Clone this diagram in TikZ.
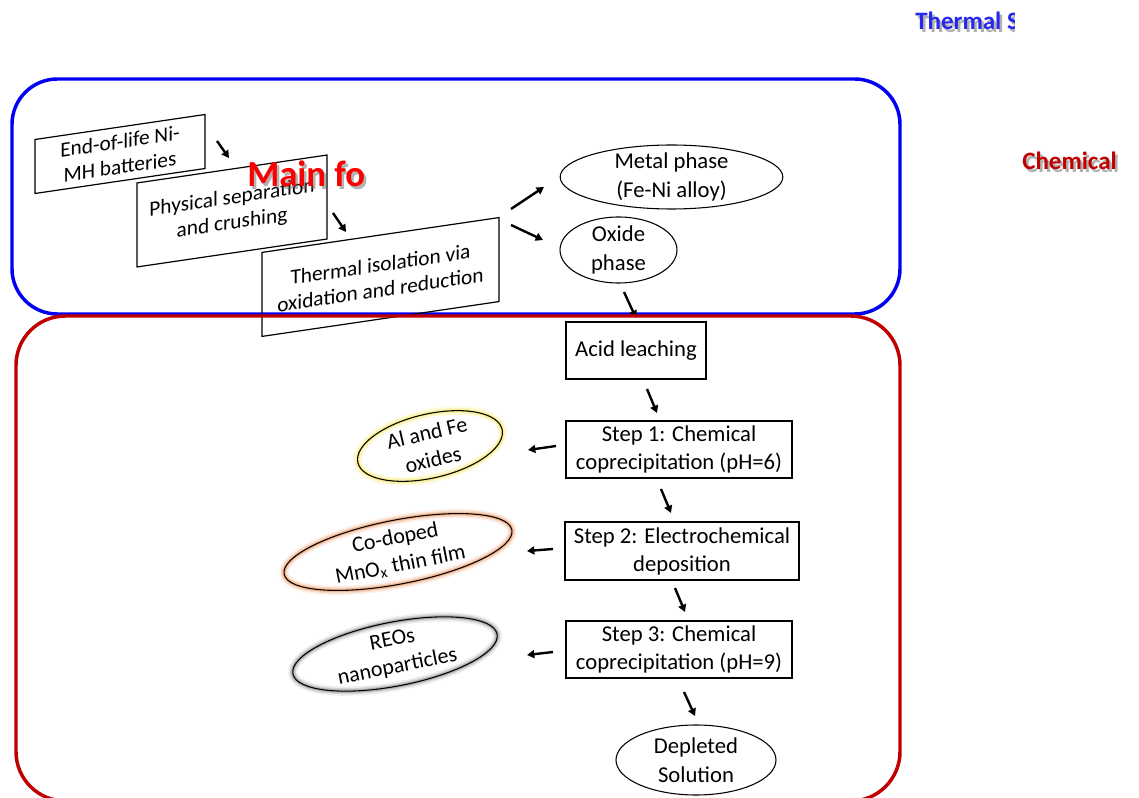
\documentclass[tikz,border=0pt]{standalone}
\usepackage{fontspec}
\setmainfont{Carlito}
\usetikzlibrary{shapes.geometric,arrows.meta}
\definecolor{tblue}{RGB}{40,40,235}
\definecolor{frameblue}{RGB}{0,0,245}
\definecolor{framered}{RGB}{192,0,0}
\definecolor{chemred}{RGB}{192,0,0}
\definecolor{mainred}{RGB}{250,0,0}
\definecolor{glowyellow}{RGB}{250,235,110}
\definecolor{gloworange}{RGB}{240,160,110}
\definecolor{glowgray}{RGB}{150,150,150}
\begin{document}
\begin{tikzpicture}[x=0.75pt,y=-0.75pt,
  box/.style={draw, line width=0.9pt, inner sep=0pt, align=center, font=\fontsize{17}{21}\selectfont},
  slbox/.style={draw, line width=0.9pt, yslant=0.147, transform shape, inner sep=0pt, align=center, font=\fontsize{16}{19}\selectfont},
  oval/.style={ellipse, draw, line width=0.8pt, inner sep=0pt},
  otext/.style={align=center, inner sep=0pt, font=\fontsize{17}{21.5}\selectfont},
  gtext/.style={align=center, inner sep=0pt, font=\fontsize{16.5}{20.5}\selectfont},
  arr/.style={-{Triangle[length=5.5pt,width=6pt]}, line width=1.8pt},
  glow/.style={preaction={draw=#1, line width=7pt, draw opacity=0.15},
               preaction={draw=#1, line width=4.5pt, draw opacity=0.3},
               preaction={draw=#1, line width=2.5pt, draw opacity=0.55}},
  ttl/.style={anchor=base west, inner sep=0pt, font=\bfseries\fontsize{18.75}{20}\selectfont},
  shadowtxt/.style={text=black!60, opacity=0.5},
]
\useasboundingbox (0,0) rectangle (1139,798);
\fill[white] (0,0) rectangle (1139,798);

% thermal frame
\draw[frameblue, line width=2.6pt, rounded corners=34pt] (12,79) rectangle (900,314);

% slanted boxes
\node[slbox, minimum width=127.5pt, minimum height=40.5pt] (eol) at (120,154) {End-of-life Ni-\\MH batteries};
\node[slbox, minimum width=142.5pt, minimum height=63pt] (phys) at (232,211) {Physical separation\\and crushing};
\node[slbox, minimum width=177.75pt, minimum height=63pt] (therm) at (380.5,277) {Thermal isolation via\\oxidation and reduction};

% ellipses top
\node[oval, minimum width=167pt, minimum height=48pt] (metal) at (671.5,177) {};
\node[otext] at (metal.center) {Metal phase\\(Fe-Ni alloy)};
\node[oval, minimum width=87.75pt, minimum height=49.5pt] (oxide) at (618.5,250) {};
\node[otext] at (oxide.center) {Oxide\\phase};

% chemical chain
\node[box, minimum width=105pt, minimum height=42.75pt] (acid) at (636,350.5) {Acid leaching};
\node[box, minimum width=169.5pt, minimum height=42.75pt] (s1) at (679,449.5) {Step 1: Chemical\\coprecipitation (pH=6)};
\node[box, minimum width=175.5pt, minimum height=43.5pt] (s2) at (682,551) {Step 2: Electrochemical\\deposition};
\node[box, minimum width=169.5pt, minimum height=42.75pt] (s3) at (679,649.5) {Step 3: Chemical\\coprecipitation (pH=9)};
\node[oval, minimum width=120pt, minimum height=52.5pt] (dep) at (696,760) {};
\node[otext] at (dep.center) {Depleted\\Solution};

% product ellipses
\node[oval, glow=glowyellow, rotate=13, transform shape, minimum width=111pt, minimum height=48pt] (al) at (430,446) {};
\node[gtext, rotate=13] at (al.center) {Al and Fe\\oxides};
\node[oval, glow=gloworange, rotate=11, transform shape, minimum width=174pt, minimum height=48pt] (co) at (398,552) {};
\node[gtext, rotate=11] at (co.center) {Co-doped\\MnO$_{\mathrm{x}}$ thin film};
\node[oval, glow=glowgray, rotate=11, transform shape, minimum width=156pt, minimum height=48pt] (reo) at (395,654) {};
\node[gtext, rotate=11] at (reo.center) {REOs\\nanoparticles};

% arrows
\coordinate (a1s) at (217,141); \coordinate (a1e) at (229,158);
\coordinate (a2s) at (333,213); \coordinate (a2e) at (346,232);
\coordinate (a3s) at (511,209); \coordinate (a3e) at (544,187);
\coordinate (a4s) at (511,225); \coordinate (a4e) at (543,240);
\coordinate (a5s) at (624,292); \coordinate (a5e) at (636,318);
\coordinate (a6s) at (647,389); \coordinate (a6e) at (657,413);
\coordinate (a7s) at (661,489); \coordinate (a7e) at (671,513);
\coordinate (a8s) at (675,588); \coordinate (a8e) at (685,612);
\coordinate (a9s) at (684,692); \coordinate (a9e) at (695,716);
\coordinate (l1s) at (556,446); \coordinate (l1e) at (528,450);
\coordinate (l2s) at (553,549); \coordinate (l2e) at (527,551);
\coordinate (l3s) at (553,652); \coordinate (l3e) at (527,655);
\foreach \a in {a1,a2,a3,a4,a5,a6,a7,a8,a9,l1,l2,l3}
  \draw[arr] (\a s) -- (\a e);

% chemical frame
\draw[framered, line width=2.6pt, rounded corners=37pt] (16,316) rectangle (900,801);

% overlay titles
\begin{scope}
\clip (0,0) rectangle (1014,60);
\node[ttl, shadowtxt] at (917.5,32.5) {Thermal S};
\node[ttl, text=tblue] (thermal) at (915,30) {Thermal S};
\end{scope}
\node[ttl, shadowtxt] at (1024.5,172.5) {Chemical};
\node[ttl, text=chemred] (chem) at (1022,170) {Chemical};
\node[ttl, shadowtxt, font=\bfseries\fontsize{27.5}{30}\selectfont] at (249.5,189.5) {Main fo};
\node[ttl, text=mainred, font=\bfseries\fontsize{27.5}{30}\selectfont] (main) at (247,187) {Main fo};
\end{tikzpicture}
\end{document}
